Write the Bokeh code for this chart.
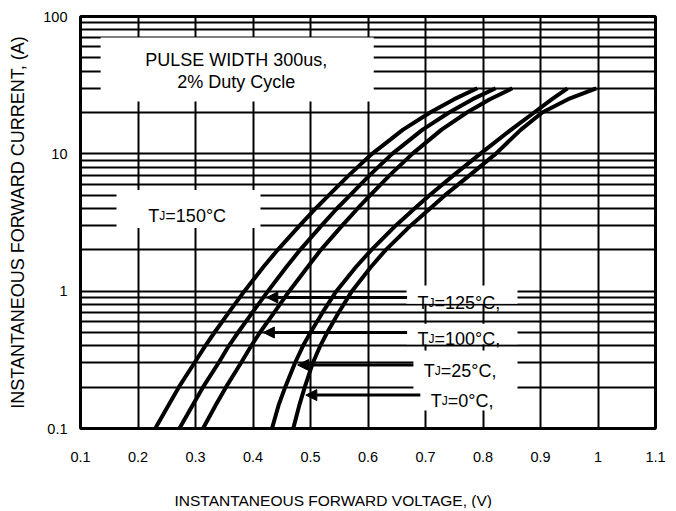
import numpy as np
from bokeh.plotting import figure
from bokeh.models import FixedTicker, Title, Arrow, NormalHead, Range1d, ColumnDataSource
from bokeh.core.properties import value
from bokeh.embed import file_html
from bokeh.resources import INLINE

# ---- data (forward current in A, forward voltage in V) ----
current_A = [0.1, 0.15, 0.2, 0.3, 0.4, 0.5, 0.7, 1, 1.5, 2, 3, 4, 5, 7, 10, 15, 20, 25, 30]
v_150C = [0.230, 0.254, 0.271, 0.298, 0.317, 0.333, 0.358, 0.385, 0.418, 0.443, 0.481, 0.509,
          0.532, 0.567, 0.607, 0.661, 0.708, 0.750, 0.790]
v_125C = [0.272, 0.296, 0.313, 0.340, 0.358, 0.374, 0.399, 0.426, 0.458, 0.482, 0.519, 0.546,
          0.569, 0.603, 0.642, 0.695, 0.741, 0.782, 0.822]
v_100C = [0.313, 0.336, 0.353, 0.379, 0.397, 0.412, 0.437, 0.463, 0.495, 0.518, 0.555, 0.582,
          0.604, 0.638, 0.677, 0.728, 0.772, 0.812, 0.851]
v_25C = [0.433, 0.445, 0.456, 0.473, 0.487, 0.500, 0.521, 0.545, 0.579, 0.606, 0.648, 0.681,
         0.707, 0.749, 0.795, 0.849, 0.889, 0.920, 0.947]
v_0C = [0.470, 0.481, 0.490, 0.504, 0.517, 0.529, 0.549, 0.572, 0.605, 0.631, 0.674, 0.708,
        0.734, 0.777, 0.822, 0.866, 0.903, 0.948, 0.997]

x_ticks = [0.1, 0.2, 0.3, 0.4, 0.5, 0.6, 0.7, 0.8, 0.9, 1.0, 1.1]
x_tick_labels = ["0.1", "0.2", "0.3", "0.4", "0.5", "0.6", "0.7", "0.8", "0.9", "1", "1.1"]
y_ticks = [0.1, 1, 10, 100]
y_tick_labels = ["0.1", "1", "10", "100"]
y_minor_ticks = [m * d for d in (0.1, 1, 10) for m in range(2, 10)]

# temperature labels: text after "TJ", label start voltage, current level of label/arrow
tj_rest = ["=150°C", "=125°C,", "=100°C,", "=25°C,", "=0°C,"]
tj_label_x = [0.218, 0.686, 0.686, 0.697, 0.709]
tj_label_I = [3.9, 0.9, 0.5, 0.29, 0.175]

FONT = "Liberation Sans"

p = figure(width=670, height=508,
           x_range=Range1d(0.1, 1.1), y_range=Range1d(0.1, 100),
           y_axis_type="log", output_backend="svg", toolbar_location=None,
           min_border_left=80, min_border_right=15, min_border_top=16, min_border_bottom=80)

p.background_fill_color = "white"
p.border_fill_color = "white"
p.outline_line_color = "black"
p.outline_line_width = 3

xt = FixedTicker(ticks=x_ticks)
yt = FixedTicker(ticks=y_ticks, minor_ticks=y_minor_ticks)
p.xaxis.ticker = xt
p.yaxis.ticker = yt
p.xgrid.ticker = xt
p.ygrid.ticker = yt
p.xaxis.major_label_overrides = {t: l for t, l in zip(x_ticks, x_tick_labels)}
p.yaxis.major_label_overrides = {t: l for t, l in zip(y_ticks, y_tick_labels)}

for ax in (p.xaxis, p.yaxis):
    ax.axis_line_color = None
    ax.major_tick_in = 0
    ax.major_tick_out = 0
    ax.minor_tick_in = 0
    ax.minor_tick_out = 0
    ax.major_label_text_font = FONT
    ax.major_label_text_font_size = "14.5px"
    ax.major_label_text_color = "black"
p.xaxis.major_label_standoff = 23
p.yaxis.major_label_standoff = 13

# blank spacer label under the x tick labels (the visible title is added below)
p.xaxis.axis_label = " "
p.xaxis.axis_label_text_font_size = "1px"
p.xaxis.axis_label_standoff = 21

p.yaxis.axis_label = "INSTANTANEOUS FORWARD CURRENT, (A)"
p.yaxis.axis_label_text_font = FONT
p.yaxis.axis_label_text_font_size = "18px"
p.yaxis.axis_label_text_font_style = "normal"
p.yaxis.axis_label_text_color = "black"
p.yaxis.axis_label_standoff = 12

p.xgrid.grid_line_color = "black"
p.xgrid.grid_line_width = 2
p.ygrid.grid_line_color = "black"
p.ygrid.grid_line_width = 2
p.ygrid.minor_grid_line_color = "black"
p.ygrid.minor_grid_line_width = 2

# white boxes behind the annotations
p.quad(left=[0.135, 0.1626, 0.667, 0.667, 0.679],
       right=[0.610, 0.413, 0.860, 0.860, 0.860],
       bottom=[24.0, 2.88, 0.81, 0.41, 0.135],
       top=[70.3, 5.46, 1.1, 0.58, 0.37],
       fill_color="white", line_color=None)

# curves
for v in (v_150C, v_125C, v_100C, v_25C, v_0C):
    p.line(x=v, y=current_A, line_color="black", line_width=4, line_join="round")

# pulse text
p.text(x=[0.371, 0.371], y=[48.5, 33.5], text=["PULSE WIDTH 300us,", "2% Duty Cycle"],
       text_font=value(FONT), text_font_size="18px", text_align="center",
       text_baseline="middle", text_color="black")

# TJ labels : T + subscript J + rest
src = ColumnDataSource(dict(x=tj_label_x, y=tj_label_I, rest=tj_rest,
                            T=["T"] * 5, J=["J"] * 5))
p.text(x="x", y="y", text="T", source=src, text_font=value(FONT), text_font_size="18px",
       text_baseline="alphabetic", y_offset=6, text_color="black")
p.text(x="x", y="y", text="J", source=src, text_font=value(FONT), text_font_size="12px",
       text_baseline="alphabetic", y_offset=6, x_offset=11, text_color="black")
p.text(x="x", y="y", text="rest", source=src, text_font=value(FONT), text_font_size="18px",
       text_baseline="alphabetic", y_offset=6, x_offset=17, text_color="black")

# arrows from labels to curves
logI = np.log10(current_A)
curves_for_arrows = [v_125C, v_100C, v_25C, v_0C]
for k, v in enumerate(curves_for_arrows, start=1):
    I_a = tj_label_I[k]
    tip = float(np.interp(np.log10(I_a), logI, v)) + 0.006
    start = tj_label_x[k] - 0.018
    p.add_layout(Arrow(end=NormalHead(size=11, fill_color="black", line_color="black", line_width=1),
                       x_start=start, y_start=I_a, x_end=tip, y_end=I_a,
                       line_width=3, line_color="black"))

# x axis title, placed a little left of the frame centre as in the reference
p.add_layout(Title(text="INSTANTANEOUS FORWARD VOLTAGE, (V)", align="left", offset=94,
                   text_font=FONT, text_font_size="15.5px", text_font_style="normal",
                   text_color="black", standoff=0), "below")

open("out.html", "w").write(file_html(p, INLINE))
